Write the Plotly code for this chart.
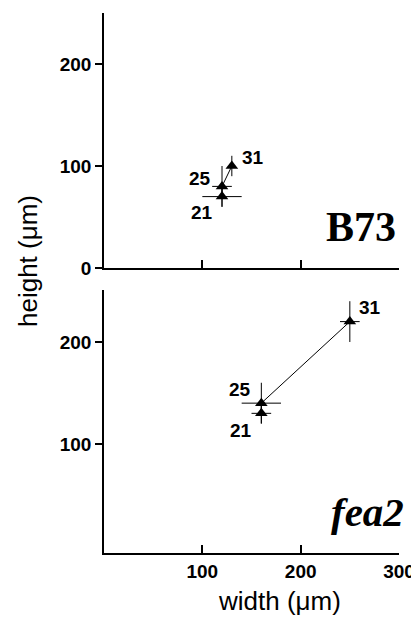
import plotly.graph_objects as go

# ---- data ----
labels = ["21", "25", "31"]

b73_width = [120, 120, 130]
b73_width_err = [20, 10, 3]
b73_height = [70, 80, 100]
b73_height_err = [10, 20, 10]

fea2_width = [160, 160, 250]
fea2_width_err = [10, 20, 10]
fea2_height = [130, 140, 220]
fea2_height_err = [10, 20, 20]

panel_names = ["B73", "fea2"]

x_ticks = [100, 200, 300]
y_ticks_top = [0, 100, 200]
y_ticks_bottom = [100, 200]

# label offsets in pixels (dx, dy) for 21, 25, 31
top_offsets = [(-20, -16), (-22, 8), (21, 9)]
bottom_offsets = [(-20, -17), (-21, 14), (20, 14)]

SANS = "Liberation Sans, Arial, Helvetica, sans-serif"
SERIF = "Liberation Serif, Times New Roman, serif"

fig = go.Figure()


def add_series(xv, xe, yv, ye, xa, ya):
    fig.add_trace(go.Scatter(
        x=xv, y=yv, xaxis=xa, yaxis=ya,
        mode="lines+markers",
        line=dict(color="black", width=1),
        marker=dict(symbol="triangle-up", size=11, color="black"),
        error_x=dict(type="data", array=xe, visible=True, width=0, thickness=1, color="black"),
        error_y=dict(type="data", array=ye, visible=True, width=0, thickness=1, color="black"),
        showlegend=False, hoverinfo="skip",
    ))


add_series(b73_width, b73_width_err, b73_height, b73_height_err, "x", "y")
add_series(fea2_width, fea2_width_err, fea2_height, fea2_height_err, "x2", "y2")

annotations = []
for lab, xv, yv, (dx, dy) in zip(labels, b73_width, b73_height, top_offsets):
    annotations.append(dict(x=xv, y=yv, xref="x", yref="y", text=f"<b>{lab}</b>",
                            showarrow=False, xshift=dx, yshift=dy,
                            font=dict(family=SANS, size=19, color="black")))
for lab, xv, yv, (dx, dy) in zip(labels, fea2_width, fea2_height, bottom_offsets):
    annotations.append(dict(x=xv, y=yv, xref="x2", yref="y2", text=f"<b>{lab}</b>",
                            showarrow=False, xshift=dx, yshift=dy,
                            font=dict(family=SANS, size=19, color="black")))

annotations.append(dict(x=261, y=40, xref="x", yref="y", text="<b>" + panel_names[0] + "</b>",
                        showarrow=False, xanchor="center", yanchor="middle",
                        font=dict(family=SERIF, size=42, color="black")))
annotations.append(dict(x=268, y=33, xref="x2", yref="y2", text="<b><i>" + panel_names[1] + "</i></b>",
                        showarrow=False, xanchor="center", yanchor="middle",
                        font=dict(family=SERIF, size=41, color="black")))

# axis titles (positions computed in plot-area fractions)
annotations.append(dict(x=(28 - 104) / 295, y=(553 - 261) / 540, xref="paper", yref="paper",
                        text="height (\u03bcm)", textangle=-90, showarrow=False,
                        xanchor="center", yanchor="middle",
                        font=dict(family=SANS, size=26, color="black")))
annotations.append(dict(x=(279 - 104) / 295, y=(553 - 601) / 540, xref="paper", yref="paper",
                        text="width (\u03bcm)", showarrow=False,
                        xanchor="center", yanchor="middle",
                        font=dict(family=SANS, size=26, color="black")))

axis_common = dict(showgrid=False, zeroline=False, showline=True, linecolor="black", linewidth=1.5,
                   tickcolor="black", tickwidth=1.5,
                   tickfont=dict(family=SANS, size=19, color="black"))

fig.update_layout(
    width=411, height=610,
    margin=dict(l=96, r=20, t=5, b=65),
    paper_bgcolor="white", plot_bgcolor="white",
    annotations=annotations,
    xaxis=dict(**axis_common, range=[0, 300], domain=[0, 1], anchor="y",
               tickvals=[0] + x_ticks, ticks="inside", ticklen=8, showticklabels=False),
    yaxis=dict(**axis_common, range=[0, 250], domain=[1 - 255 / 540, 1], anchor="x",
               tickvals=y_ticks_top, ticktext=[f"<b>{v}</b>" for v in y_ticks_top],
               ticks="outside", ticklen=7),
    xaxis2=dict(**axis_common, range=[0, 300], domain=[0, 1], anchor="y2",
                tickvals=x_ticks, ticktext=[f"<b>{v}</b>" for v in x_ticks],
                ticks="inside", ticklen=8),
    yaxis2=dict(**axis_common, range=[-7, 251], domain=[0, 1 - 277 / 540], anchor="x2",
                tickvals=y_ticks_bottom, ticktext=[f"<b>{v}</b>" for v in y_ticks_bottom],
                ticks="outside", ticklen=7),
)

fig.write_html("out.html")
